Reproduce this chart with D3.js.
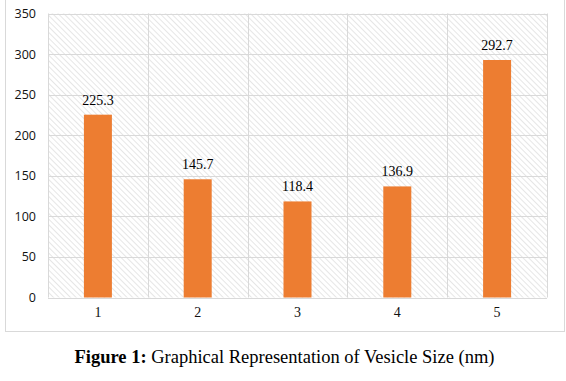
<!DOCTYPE html>
<html><head><meta charset="utf-8">
<script src="https://cdn.jsdelivr.net/npm/d3@7/dist/d3.min.js"></script>
<style>body{margin:0;background:#fff}svg{display:block}</style>
</head><body>
<script>
const categories = ["1","2","3","4","5"];
const values = [225.3, 145.7, 118.4, 136.9, 292.7];
const yTicks = [0,50,100,150,200,250,300,350];
const captionBold = "Figure 1:";
const captionText = " Graphical Representation of Vesicle Size (nm)";

const W = 566, H = 381;
const svg = d3.select("body").append("svg").attr("width", W).attr("height", H);

const defs = svg.append("defs");
const pat = defs.append("pattern").attr("id","hatch").attr("patternUnits","userSpaceOnUse")
  .attr("width",4).attr("height",4).attr("patternTransform","rotate(45)");
pat.append("rect").attr("width",4).attr("height",4).attr("fill","#fff");
pat.append("line").attr("x1",0).attr("y1",0).attr("x2",4).attr("y2",0)
  .attr("stroke","#d9d9d9").attr("stroke-width",1.3);

// outer border
svg.append("rect").attr("x",5.5).attr("y",-2).attr("width",559).attr("height",333.5)
  .attr("fill","none").attr("stroke","#d9d9d9").attr("stroke-width",1);

const m = {l:48, r:547, t:13.5, b:297.5};
const x = d3.scaleBand().domain(categories).range([m.l, m.r]).paddingInner(0).paddingOuter(0);
const y = d3.scaleLinear().domain([0,350]).range([m.b, m.t]);

svg.append("rect").attr("x",m.l).attr("y",m.t).attr("width",m.r-m.l).attr("height",m.b-m.t)
  .attr("fill","url(#hatch)");

// horizontal grid
svg.append("g").selectAll("line").data(yTicks).join("line")
  .attr("x1",m.l).attr("x2",m.r).attr("y1",d=>Math.round(y(d))+0.5).attr("y2",d=>Math.round(y(d))+0.5)
  .attr("stroke","#d9d9d9").attr("stroke-width",1);
// vertical grid
const vx = categories.map(c=>x(c)).concat([m.r]);
svg.append("g").selectAll("line").data(vx).join("line")
  .attr("x1",d=>Math.round(d)+0.5).attr("x2",d=>Math.round(d)+0.5).attr("y1",m.t).attr("y2",m.b)
  .attr("stroke","#d9d9d9").attr("stroke-width",1);

// y axis labels
const yAxis = d3.axisLeft(y).tickValues(yTicks).tickSize(0).tickPadding(12);
const ga = svg.append("g").attr("transform",`translate(${m.l},0)`).call(yAxis);
ga.select(".domain").remove();
ga.selectAll("text").attr("font-family","'Open Sans', 'Liberation Sans', sans-serif")
  .attr("font-size",12.5).attr("fill","#111");

// x axis labels
const xAxis = d3.axisBottom(x).tickSize(0).tickPadding(10);
const gx = svg.append("g").attr("transform",`translate(0,${m.b})`).call(xAxis);
gx.select(".domain").remove();
gx.selectAll("text").attr("font-family","'Liberation Serif', 'Times New Roman', serif")
  .attr("font-size",14).attr("fill","#111");

// bars
const bw = 28;
svg.append("g").selectAll("rect").data(values).join("rect")
  .attr("x",(d,i)=>x(categories[i])+x.bandwidth()/2-bw/2)
  .attr("y",d=>y(d)).attr("width",bw).attr("height",d=>y(0)-y(d))
  .attr("fill","#ED7D31");

// data labels
svg.append("g").selectAll("text").data(values).join("text")
  .attr("x",(d,i)=>x(categories[i])+x.bandwidth()/2)
  .attr("y",d=>y(d)-10)
  .attr("text-anchor","middle")
  .attr("font-family","'Liberation Serif', 'Times New Roman', serif")
  .attr("font-size",14).attr("fill","#000")
  .text(d=>d.toFixed(1));

// caption
const cap = svg.append("text").attr("x",284.5).attr("y",363).attr("text-anchor","middle")
  .attr("font-family","'Liberation Serif', 'Times New Roman', serif").attr("font-size",18.5).attr("fill","#000");
cap.append("tspan").attr("font-weight","bold").text(captionBold);
cap.append("tspan").text(captionText);
</script>
</body></html>
